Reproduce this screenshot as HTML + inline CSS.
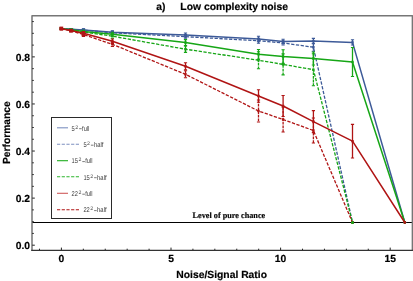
<!DOCTYPE html>
<html><head><meta charset="utf-8"><title>chart</title>
<style>
html,body{margin:0;padding:0;background:#fff;}
body{width:413px;height:281px;overflow:hidden;font-family:"Liberation Sans",sans-serif;}
svg{display:block;will-change:transform;}
text{font-family:"Liberation Sans",sans-serif;text-rendering:geometricPrecision;}
.b{font-weight:bold;fill:#000;stroke:#000;stroke-width:0.18px;}
.ser{font-family:"Liberation Serif",serif;font-weight:bold;fill:#000;stroke:#000;stroke-width:0.15px;}
.lg{fill:#3a3a3a;text-rendering:geometricPrecision;}
</style></head><body>
<svg width="413" height="281" viewBox="0 0 413 281">
<rect x="0" y="0" width="413" height="281" fill="#fff"/>

<line x1="32" y1="222.5" x2="412" y2="222.5" stroke="#000" stroke-width="1.1"/>
<polyline points="61.3,28.7 71.0,29.2 83.5,29.9 112.4,32.2 185.5,35.0 258.5,39.0 283.1,41.4 313.4,41.1 352.5,42.4 404.8,222.5" fill="none" stroke="#3d5a98" stroke-width="1.5" stroke-linejoin="round"/>
<path d="M61.3 28.1V29.3" stroke="#3d5a98" stroke-width="1.3" fill="none"/>
<path d="M59.7 28.1H62.9M59.7 29.3H62.9" stroke="#3d5a98" stroke-width="1.1" fill="none"/>
<rect x="60.1" y="27.5" width="2.4" height="2.4" fill="#3d5a98"/>
<path d="M71.0 28.5V29.9" stroke="#3d5a98" stroke-width="1.3" fill="none"/>
<path d="M69.4 28.5H72.6M69.4 29.9H72.6" stroke="#3d5a98" stroke-width="1.1" fill="none"/>
<rect x="69.8" y="28.0" width="2.4" height="2.4" fill="#3d5a98"/>
<path d="M83.5 28.9V30.9" stroke="#3d5a98" stroke-width="1.3" fill="none"/>
<path d="M81.9 28.9H85.1M81.9 30.9H85.1" stroke="#3d5a98" stroke-width="1.1" fill="none"/>
<rect x="82.3" y="28.7" width="2.4" height="2.4" fill="#3d5a98"/>
<path d="M112.4 30.8V33.6" stroke="#3d5a98" stroke-width="1.3" fill="none"/>
<path d="M110.8 30.8H114.0M110.8 33.6H114.0" stroke="#3d5a98" stroke-width="1.1" fill="none"/>
<rect x="111.2" y="31.0" width="2.4" height="2.4" fill="#3d5a98"/>
<path d="M185.5 33.0V37.0" stroke="#3d5a98" stroke-width="1.3" fill="none"/>
<path d="M183.9 33.0H187.1M183.9 37.0H187.1" stroke="#3d5a98" stroke-width="1.1" fill="none"/>
<rect x="184.3" y="33.8" width="2.4" height="2.4" fill="#3d5a98"/>
<path d="M258.5 36.2V41.8" stroke="#3d5a98" stroke-width="1.3" fill="none"/>
<path d="M256.9 36.2H260.1M256.9 41.8H260.1" stroke="#3d5a98" stroke-width="1.1" fill="none"/>
<rect x="257.3" y="37.8" width="2.4" height="2.4" fill="#3d5a98"/>
<path d="M283.1 39.2V43.6" stroke="#3d5a98" stroke-width="1.3" fill="none"/>
<path d="M281.5 39.2H284.7M281.5 43.6H284.7" stroke="#3d5a98" stroke-width="1.1" fill="none"/>
<rect x="281.9" y="40.2" width="2.4" height="2.4" fill="#3d5a98"/>
<path d="M313.4 38.4V43.8" stroke="#3d5a98" stroke-width="1.3" fill="none"/>
<path d="M311.8 38.4H315.0M311.8 43.8H315.0" stroke="#3d5a98" stroke-width="1.1" fill="none"/>
<rect x="312.2" y="39.9" width="2.4" height="2.4" fill="#3d5a98"/>
<path d="M352.5 39.8V45.0" stroke="#3d5a98" stroke-width="1.3" fill="none"/>
<path d="M350.9 39.8H354.1M350.9 45.0H354.1" stroke="#3d5a98" stroke-width="1.1" fill="none"/>
<rect x="351.3" y="41.2" width="2.4" height="2.4" fill="#3d5a98"/>
<circle cx="404.8" cy="222.5" r="1.4" fill="#3d5a98"/>
<polyline points="61.3,28.7 71.0,29.3 83.5,30.1 112.4,32.8 185.5,36.7 258.5,40.7 283.1,43.0 313.4,47.2 352.5,222.5" fill="none" stroke="#3d5a98" stroke-width="1.3" stroke-linejoin="round" stroke-dasharray="3.3,1.5"/>
<path d="M61.3 28.1V29.3" stroke="#3d5a98" stroke-width="1.3" fill="none" stroke-dasharray="2.8,0.9"/>
<path d="M59.7 28.1H62.9M59.7 29.3H62.9" stroke="#3d5a98" stroke-width="1.1" fill="none"/>
<rect x="60.1" y="27.5" width="2.4" height="2.4" fill="#3d5a98"/>
<path d="M71.0 28.6V30.0" stroke="#3d5a98" stroke-width="1.3" fill="none" stroke-dasharray="2.8,0.9"/>
<path d="M69.4 28.6H72.6M69.4 30.0H72.6" stroke="#3d5a98" stroke-width="1.1" fill="none"/>
<rect x="69.8" y="28.1" width="2.4" height="2.4" fill="#3d5a98"/>
<path d="M83.5 29.1V31.1" stroke="#3d5a98" stroke-width="1.3" fill="none" stroke-dasharray="2.8,0.9"/>
<path d="M81.9 29.1H85.1M81.9 31.1H85.1" stroke="#3d5a98" stroke-width="1.1" fill="none"/>
<rect x="82.3" y="28.9" width="2.4" height="2.4" fill="#3d5a98"/>
<path d="M112.4 31.4V34.2" stroke="#3d5a98" stroke-width="1.3" fill="none" stroke-dasharray="2.8,0.9"/>
<path d="M110.8 31.4H114.0M110.8 34.2H114.0" stroke="#3d5a98" stroke-width="1.1" fill="none"/>
<rect x="111.2" y="31.6" width="2.4" height="2.4" fill="#3d5a98"/>
<path d="M185.5 34.7V38.7" stroke="#3d5a98" stroke-width="1.3" fill="none" stroke-dasharray="2.8,0.9"/>
<path d="M183.9 34.7H187.1M183.9 38.7H187.1" stroke="#3d5a98" stroke-width="1.1" fill="none"/>
<rect x="184.3" y="35.5" width="2.4" height="2.4" fill="#3d5a98"/>
<path d="M258.5 38.2V43.2" stroke="#3d5a98" stroke-width="1.3" fill="none" stroke-dasharray="2.8,0.9"/>
<path d="M256.9 38.2H260.1M256.9 43.2H260.1" stroke="#3d5a98" stroke-width="1.1" fill="none"/>
<rect x="257.3" y="39.5" width="2.4" height="2.4" fill="#3d5a98"/>
<path d="M283.1 41.0V45.0" stroke="#3d5a98" stroke-width="1.3" fill="none" stroke-dasharray="2.8,0.9"/>
<path d="M281.5 41.0H284.7M281.5 45.0H284.7" stroke="#3d5a98" stroke-width="1.1" fill="none"/>
<rect x="281.9" y="41.8" width="2.4" height="2.4" fill="#3d5a98"/>
<path d="M313.4 43.2V51.2" stroke="#3d5a98" stroke-width="1.3" fill="none" stroke-dasharray="2.8,0.9"/>
<path d="M311.8 43.2H315.0M311.8 51.2H315.0" stroke="#3d5a98" stroke-width="1.1" fill="none"/>
<rect x="312.2" y="46.0" width="2.4" height="2.4" fill="#3d5a98"/>
<circle cx="352.5" cy="222.5" r="1.4" fill="#3d5a98"/>
<polyline points="61.3,28.7 71.0,29.8 83.5,31.4 112.4,34.2 185.5,42.6 258.5,54.3 283.1,56.6 313.4,58.5 352.5,62.0 404.8,222.5" fill="none" stroke="#16a616" stroke-width="1.5" stroke-linejoin="round"/>
<path d="M61.3 28.1V29.3" stroke="#16a616" stroke-width="1.3" fill="none"/>
<path d="M59.7 28.1H62.9M59.7 29.3H62.9" stroke="#16a616" stroke-width="1.1" fill="none"/>
<rect x="60.1" y="27.5" width="2.4" height="2.4" fill="#16a616"/>
<path d="M71.0 29.0V30.6" stroke="#16a616" stroke-width="1.3" fill="none"/>
<path d="M69.4 29.0H72.6M69.4 30.6H72.6" stroke="#16a616" stroke-width="1.1" fill="none"/>
<rect x="69.8" y="28.6" width="2.4" height="2.4" fill="#16a616"/>
<path d="M83.5 30.2V32.6" stroke="#16a616" stroke-width="1.3" fill="none"/>
<path d="M81.9 30.2H85.1M81.9 32.6H85.1" stroke="#16a616" stroke-width="1.1" fill="none"/>
<rect x="82.3" y="30.2" width="2.4" height="2.4" fill="#16a616"/>
<path d="M112.4 32.2V36.2" stroke="#16a616" stroke-width="1.3" fill="none"/>
<path d="M110.8 32.2H114.0M110.8 36.2H114.0" stroke="#16a616" stroke-width="1.1" fill="none"/>
<rect x="111.2" y="33.0" width="2.4" height="2.4" fill="#16a616"/>
<path d="M185.5 39.6V45.6" stroke="#16a616" stroke-width="1.3" fill="none"/>
<path d="M183.9 39.6H187.1M183.9 45.6H187.1" stroke="#16a616" stroke-width="1.1" fill="none"/>
<rect x="184.3" y="41.4" width="2.4" height="2.4" fill="#16a616"/>
<path d="M258.5 49.5V59.1" stroke="#16a616" stroke-width="1.3" fill="none"/>
<path d="M256.9 49.5H260.1M256.9 59.1H260.1" stroke="#16a616" stroke-width="1.1" fill="none"/>
<rect x="257.3" y="53.1" width="2.4" height="2.4" fill="#16a616"/>
<path d="M283.1 49.8V63.4" stroke="#16a616" stroke-width="1.3" fill="none"/>
<path d="M281.5 49.8H284.7M281.5 63.4H284.7" stroke="#16a616" stroke-width="1.1" fill="none"/>
<rect x="281.9" y="55.4" width="2.4" height="2.4" fill="#16a616"/>
<path d="M313.4 52.0V65.0" stroke="#16a616" stroke-width="1.3" fill="none"/>
<path d="M311.8 52.0H315.0M311.8 65.0H315.0" stroke="#16a616" stroke-width="1.1" fill="none"/>
<rect x="312.2" y="57.3" width="2.4" height="2.4" fill="#16a616"/>
<path d="M352.5 47.5V76.5" stroke="#16a616" stroke-width="1.3" fill="none"/>
<path d="M350.9 47.5H354.1M350.9 76.5H354.1" stroke="#16a616" stroke-width="1.1" fill="none"/>
<rect x="351.3" y="60.8" width="2.4" height="2.4" fill="#16a616"/>
<circle cx="404.8" cy="222.5" r="1.4" fill="#16a616"/>
<polyline points="61.3,28.7 71.0,30.0 83.5,31.9 112.4,36.2 185.5,49.2 258.5,60.2 283.1,64.4 313.4,69.7 352.5,222.5" fill="none" stroke="#16a616" stroke-width="1.3" stroke-linejoin="round" stroke-dasharray="3.3,1.5"/>
<path d="M61.3 28.1V29.3" stroke="#16a616" stroke-width="1.3" fill="none" stroke-dasharray="2.8,0.9"/>
<path d="M59.7 28.1H62.9M59.7 29.3H62.9" stroke="#16a616" stroke-width="1.1" fill="none"/>
<rect x="60.1" y="27.5" width="2.4" height="2.4" fill="#16a616"/>
<path d="M71.0 29.2V30.8" stroke="#16a616" stroke-width="1.3" fill="none" stroke-dasharray="2.8,0.9"/>
<path d="M69.4 29.2H72.6M69.4 30.8H72.6" stroke="#16a616" stroke-width="1.1" fill="none"/>
<rect x="69.8" y="28.8" width="2.4" height="2.4" fill="#16a616"/>
<path d="M83.5 30.7V33.1" stroke="#16a616" stroke-width="1.3" fill="none" stroke-dasharray="2.8,0.9"/>
<path d="M81.9 30.7H85.1M81.9 33.1H85.1" stroke="#16a616" stroke-width="1.1" fill="none"/>
<rect x="82.3" y="30.7" width="2.4" height="2.4" fill="#16a616"/>
<path d="M112.4 34.2V38.2" stroke="#16a616" stroke-width="1.3" fill="none" stroke-dasharray="2.8,0.9"/>
<path d="M110.8 34.2H114.0M110.8 38.2H114.0" stroke="#16a616" stroke-width="1.1" fill="none"/>
<rect x="111.2" y="35.0" width="2.4" height="2.4" fill="#16a616"/>
<path d="M185.5 46.0V52.4" stroke="#16a616" stroke-width="1.3" fill="none" stroke-dasharray="2.8,0.9"/>
<path d="M183.9 46.0H187.1M183.9 52.4H187.1" stroke="#16a616" stroke-width="1.1" fill="none"/>
<rect x="184.3" y="48.0" width="2.4" height="2.4" fill="#16a616"/>
<path d="M258.5 51.7V68.7" stroke="#16a616" stroke-width="1.3" fill="none" stroke-dasharray="2.8,0.9"/>
<path d="M256.9 51.7H260.1M256.9 68.7H260.1" stroke="#16a616" stroke-width="1.1" fill="none"/>
<rect x="257.3" y="59.0" width="2.4" height="2.4" fill="#16a616"/>
<path d="M283.1 53.9V74.9" stroke="#16a616" stroke-width="1.3" fill="none" stroke-dasharray="2.8,0.9"/>
<path d="M281.5 53.9H284.7M281.5 74.9H284.7" stroke="#16a616" stroke-width="1.1" fill="none"/>
<rect x="281.9" y="63.2" width="2.4" height="2.4" fill="#16a616"/>
<path d="M313.4 53.7V85.7" stroke="#16a616" stroke-width="1.3" fill="none" stroke-dasharray="2.8,0.9"/>
<path d="M311.8 53.7H315.0M311.8 85.7H315.0" stroke="#16a616" stroke-width="1.1" fill="none"/>
<rect x="312.2" y="68.5" width="2.4" height="2.4" fill="#16a616"/>
<circle cx="352.5" cy="222.5" r="1.4" fill="#16a616"/>
<polyline points="61.3,28.7 71.0,30.5 83.5,33.3 112.4,41.2 185.5,66.3 258.5,96.0 283.1,106.0 313.4,121.6 352.5,141.2 404.8,222.5" fill="none" stroke="#b01414" stroke-width="1.5" stroke-linejoin="round"/>
<path d="M61.3 27.9V29.5" stroke="#b01414" stroke-width="1.3" fill="none"/>
<path d="M59.7 27.9H62.9M59.7 29.5H62.9" stroke="#b01414" stroke-width="1.1" fill="none"/>
<rect x="60.1" y="27.5" width="2.4" height="2.4" fill="#b01414"/>
<path d="M71.0 29.5V31.5" stroke="#b01414" stroke-width="1.3" fill="none"/>
<path d="M69.4 29.5H72.6M69.4 31.5H72.6" stroke="#b01414" stroke-width="1.1" fill="none"/>
<rect x="69.8" y="29.3" width="2.4" height="2.4" fill="#b01414"/>
<path d="M83.5 31.5V35.1" stroke="#b01414" stroke-width="1.3" fill="none"/>
<path d="M81.9 31.5H85.1M81.9 35.1H85.1" stroke="#b01414" stroke-width="1.1" fill="none"/>
<rect x="82.3" y="32.1" width="2.4" height="2.4" fill="#b01414"/>
<path d="M112.4 39.0V43.4" stroke="#b01414" stroke-width="1.3" fill="none"/>
<path d="M110.8 39.0H114.0M110.8 43.4H114.0" stroke="#b01414" stroke-width="1.1" fill="none"/>
<rect x="111.2" y="40.0" width="2.4" height="2.4" fill="#b01414"/>
<path d="M185.5 62.8V69.8" stroke="#b01414" stroke-width="1.3" fill="none"/>
<path d="M183.9 62.8H187.1M183.9 69.8H187.1" stroke="#b01414" stroke-width="1.1" fill="none"/>
<rect x="184.3" y="65.1" width="2.4" height="2.4" fill="#b01414"/>
<path d="M258.5 89.8V102.2" stroke="#b01414" stroke-width="1.3" fill="none"/>
<path d="M256.9 89.8H260.1M256.9 102.2H260.1" stroke="#b01414" stroke-width="1.1" fill="none"/>
<rect x="257.3" y="94.8" width="2.4" height="2.4" fill="#b01414"/>
<path d="M283.1 95.5V116.5" stroke="#b01414" stroke-width="1.3" fill="none"/>
<path d="M281.5 95.5H284.7M281.5 116.5H284.7" stroke="#b01414" stroke-width="1.1" fill="none"/>
<rect x="281.9" y="104.8" width="2.4" height="2.4" fill="#b01414"/>
<path d="M313.4 110.6V132.6" stroke="#b01414" stroke-width="1.3" fill="none"/>
<path d="M311.8 110.6H315.0M311.8 132.6H315.0" stroke="#b01414" stroke-width="1.1" fill="none"/>
<rect x="312.2" y="120.4" width="2.4" height="2.4" fill="#b01414"/>
<path d="M352.5 124.4V158.0" stroke="#b01414" stroke-width="1.3" fill="none"/>
<path d="M350.9 124.4H354.1M350.9 158.0H354.1" stroke="#b01414" stroke-width="1.1" fill="none"/>
<rect x="351.3" y="140.0" width="2.4" height="2.4" fill="#b01414"/>
<circle cx="404.8" cy="222.5" r="1.4" fill="#b01414"/>
<polyline points="61.3,28.7 71.0,30.7 83.5,34.6 112.4,44.3 185.5,74.3 258.5,111.0 283.1,119.5 313.4,130.5 352.5,222.5" fill="none" stroke="#b01414" stroke-width="1.3" stroke-linejoin="round" stroke-dasharray="3.3,1.5"/>
<path d="M61.3 27.9V29.5" stroke="#b01414" stroke-width="1.3" fill="none" stroke-dasharray="2.8,0.9"/>
<path d="M59.7 27.9H62.9M59.7 29.5H62.9" stroke="#b01414" stroke-width="1.1" fill="none"/>
<rect x="60.1" y="27.5" width="2.4" height="2.4" fill="#b01414"/>
<path d="M71.0 29.7V31.7" stroke="#b01414" stroke-width="1.3" fill="none" stroke-dasharray="2.8,0.9"/>
<path d="M69.4 29.7H72.6M69.4 31.7H72.6" stroke="#b01414" stroke-width="1.1" fill="none"/>
<rect x="69.8" y="29.5" width="2.4" height="2.4" fill="#b01414"/>
<path d="M83.5 32.8V36.4" stroke="#b01414" stroke-width="1.3" fill="none" stroke-dasharray="2.8,0.9"/>
<path d="M81.9 32.8H85.1M81.9 36.4H85.1" stroke="#b01414" stroke-width="1.1" fill="none"/>
<rect x="82.3" y="33.4" width="2.4" height="2.4" fill="#b01414"/>
<path d="M112.4 42.1V46.5" stroke="#b01414" stroke-width="1.3" fill="none" stroke-dasharray="2.8,0.9"/>
<path d="M110.8 42.1H114.0M110.8 46.5H114.0" stroke="#b01414" stroke-width="1.1" fill="none"/>
<rect x="111.2" y="43.1" width="2.4" height="2.4" fill="#b01414"/>
<path d="M185.5 70.8V77.8" stroke="#b01414" stroke-width="1.3" fill="none" stroke-dasharray="2.8,0.9"/>
<path d="M183.9 70.8H187.1M183.9 77.8H187.1" stroke="#b01414" stroke-width="1.1" fill="none"/>
<rect x="184.3" y="73.1" width="2.4" height="2.4" fill="#b01414"/>
<path d="M258.5 100.0V122.0" stroke="#b01414" stroke-width="1.3" fill="none" stroke-dasharray="2.8,0.9"/>
<path d="M256.9 100.0H260.1M256.9 122.0H260.1" stroke="#b01414" stroke-width="1.1" fill="none"/>
<rect x="257.3" y="109.8" width="2.4" height="2.4" fill="#b01414"/>
<path d="M283.1 107.0V132.0" stroke="#b01414" stroke-width="1.3" fill="none" stroke-dasharray="2.8,0.9"/>
<path d="M281.5 107.0H284.7M281.5 132.0H284.7" stroke="#b01414" stroke-width="1.1" fill="none"/>
<rect x="281.9" y="118.3" width="2.4" height="2.4" fill="#b01414"/>
<path d="M313.4 118.0V143.0" stroke="#b01414" stroke-width="1.3" fill="none" stroke-dasharray="2.8,0.9"/>
<path d="M311.8 118.0H315.0M311.8 143.0H315.0" stroke="#b01414" stroke-width="1.1" fill="none"/>
<rect x="312.2" y="129.3" width="2.4" height="2.4" fill="#b01414"/>
<circle cx="352.5" cy="222.5" r="1.4" fill="#b01414"/>
<rect x="59.5" y="26.6" width="3.7" height="4.1" fill="#b01414"/>
<rect x="69.1" y="28.8" width="3.8" height="3.8" fill="#b01414"/>
<rect x="81.6" y="31.3" width="3.8" height="5.0" fill="#b01414"/>
<circle cx="352.5" cy="222.5" r="1.5" fill="#16a616"/>
<path d="M32 250.5V15.8H412.4V250.5" fill="none" stroke="#767676" stroke-width="1.5" stroke-linejoin="round"/>
<line x1="31.2" y1="250.4" x2="413" y2="250.4" stroke="#333" stroke-width="1.1"/>
<path d="M32.2 245.20h2.6M32.2 233.43h1.6M32.2 221.66h1.6M32.2 209.89h1.6M32.2 198.12h2.6M32.2 186.35h1.6M32.2 174.58h1.6M32.2 162.81h1.6M32.2 151.04h2.6M32.2 139.27h1.6M32.2 127.50h1.6M32.2 115.73h1.6M32.2 103.96h2.6M32.2 92.19h1.6M32.2 80.42h1.6M32.2 68.65h1.6M32.2 56.88h2.6M32.2 45.11h1.6M32.2 33.34h1.6M32.2 21.57h1.6M39.48 250v-1.3M61.40 250v-2.4M83.32 250v-1.3M105.24 250v-1.3M127.16 250v-1.3M149.08 250v-1.3M171.00 250v-2.4M192.92 250v-1.3M214.84 250v-1.3M236.76 250v-1.3M258.68 250v-1.3M280.60 250v-2.4M302.52 250v-1.3M324.44 250v-1.3M346.36 250v-1.3M368.28 250v-1.3M390.20 250v-2.4" stroke="#222" stroke-width="1" fill="none"/>
<text class="b" x="30.0" y="249.0" font-size="10.3" text-anchor="end">0.0</text>
<text class="b" x="30.0" y="202.0" font-size="10.3" text-anchor="end">0.2</text>
<text class="b" x="30.0" y="154.9" font-size="10.3" text-anchor="end">0.4</text>
<text class="b" x="30.0" y="107.8" font-size="10.3" text-anchor="end">0.6</text>
<text class="b" x="30.0" y="60.7" font-size="10.3" text-anchor="end">0.8</text>
<text class="b" x="61.4" y="261.5" font-size="10.3" text-anchor="middle">0</text>
<text class="b" x="171.0" y="261.5" font-size="10.3" text-anchor="middle">5</text>
<text class="b" x="280.6" y="261.5" font-size="10.3" text-anchor="middle">10</text>
<text class="b" x="390.2" y="261.5" font-size="10.3" text-anchor="middle">15</text>
<text class="b" x="156.3" y="9.8" font-size="10.3">a)</text>
<text class="b" x="180.3" y="9.8" font-size="10.3" textLength="107.7" lengthAdjust="spacingAndGlyphs">Low complexity noise</text>
<text class="b" x="176.3" y="277.9" font-size="10.3" textLength="90.7" lengthAdjust="spacingAndGlyphs">Noise/Signal Ratio</text>
<text class="b" transform="translate(10.3,164) rotate(-90)" font-size="10.3" textLength="62.7" lengthAdjust="spacingAndGlyphs">Performance</text>
<text class="ser" x="192.6" y="218.4" font-size="8.3" textLength="72.6" lengthAdjust="spacingAndGlyphs">Level of pure chance</text>
<rect x="51.5" y="117.5" width="60" height="101" fill="#fff" stroke="#2a2a2a" stroke-width="1"/>
<line x1="57" y1="127.8" x2="68" y2="127.8" stroke="#7d90c0" stroke-width="1.1"/>
<text class="lg" x="71.6" y="130.5" font-size="7.0" textLength="3.2" lengthAdjust="spacingAndGlyphs">5</text>
<text class="lg" x="75.2" y="128.5" font-size="5.2">2</text>
<line x1="79.1" y1="128.7" x2="81.7" y2="128.7" stroke="#444" stroke-width="0.7"/>
<text class="lg" x="82.1" y="130.5" font-size="7.0" textLength="7.2" lengthAdjust="spacingAndGlyphs">full</text>
<line x1="57" y1="144.3" x2="79" y2="144.3" stroke="#7d90c0" stroke-width="1.1" stroke-dasharray="3.2,1.5"/>
<text class="lg" x="83.4" y="147.0" font-size="7.0" textLength="3.2" lengthAdjust="spacingAndGlyphs">5</text>
<text class="lg" x="87.0" y="145.0" font-size="5.2">2</text>
<line x1="90.9" y1="145.2" x2="93.5" y2="145.2" stroke="#444" stroke-width="0.7"/>
<text class="lg" x="93.9" y="147.0" font-size="7.0" textLength="9.5" lengthAdjust="spacingAndGlyphs">half</text>
<line x1="57" y1="160.7" x2="68" y2="160.7" stroke="#1fad1f" stroke-width="1.1"/>
<text class="lg" x="71.6" y="163.4" font-size="7.0" textLength="6.4" lengthAdjust="spacingAndGlyphs">15</text>
<text class="lg" x="78.4" y="161.4" font-size="5.2">2</text>
<line x1="82.3" y1="161.6" x2="84.9" y2="161.6" stroke="#444" stroke-width="0.7"/>
<text class="lg" x="85.3" y="163.4" font-size="7.0" textLength="7.2" lengthAdjust="spacingAndGlyphs">full</text>
<line x1="57" y1="176.8" x2="79" y2="176.8" stroke="#2db52d" stroke-width="1.1" stroke-dasharray="3.2,1.5"/>
<text class="lg" x="83.4" y="179.5" font-size="7.0" textLength="6.4" lengthAdjust="spacingAndGlyphs">15</text>
<text class="lg" x="90.2" y="177.5" font-size="5.2">2</text>
<line x1="94.1" y1="177.7" x2="96.7" y2="177.7" stroke="#444" stroke-width="0.7"/>
<text class="lg" x="97.1" y="179.5" font-size="7.0" textLength="9.5" lengthAdjust="spacingAndGlyphs">half</text>
<line x1="57" y1="193.3" x2="68" y2="193.3" stroke="#cf5b5b" stroke-width="1.1"/>
<text class="lg" x="71.6" y="196.0" font-size="7.0" textLength="6.4" lengthAdjust="spacingAndGlyphs">22</text>
<text class="lg" x="78.4" y="194.0" font-size="5.2">2</text>
<line x1="82.3" y1="194.2" x2="84.9" y2="194.2" stroke="#444" stroke-width="0.7"/>
<text class="lg" x="85.3" y="196.0" font-size="7.0" textLength="7.2" lengthAdjust="spacingAndGlyphs">full</text>
<line x1="57" y1="209.7" x2="79" y2="209.7" stroke="#b01414" stroke-width="1.1" stroke-dasharray="3.2,1.5"/>
<text class="lg" x="83.4" y="212.4" font-size="7.0" textLength="6.4" lengthAdjust="spacingAndGlyphs">22</text>
<text class="lg" x="90.2" y="210.4" font-size="5.2">2</text>
<line x1="94.1" y1="210.6" x2="96.7" y2="210.6" stroke="#444" stroke-width="0.7"/>
<text class="lg" x="97.1" y="212.4" font-size="7.0" textLength="9.5" lengthAdjust="spacingAndGlyphs">half</text>
</svg></body></html>
